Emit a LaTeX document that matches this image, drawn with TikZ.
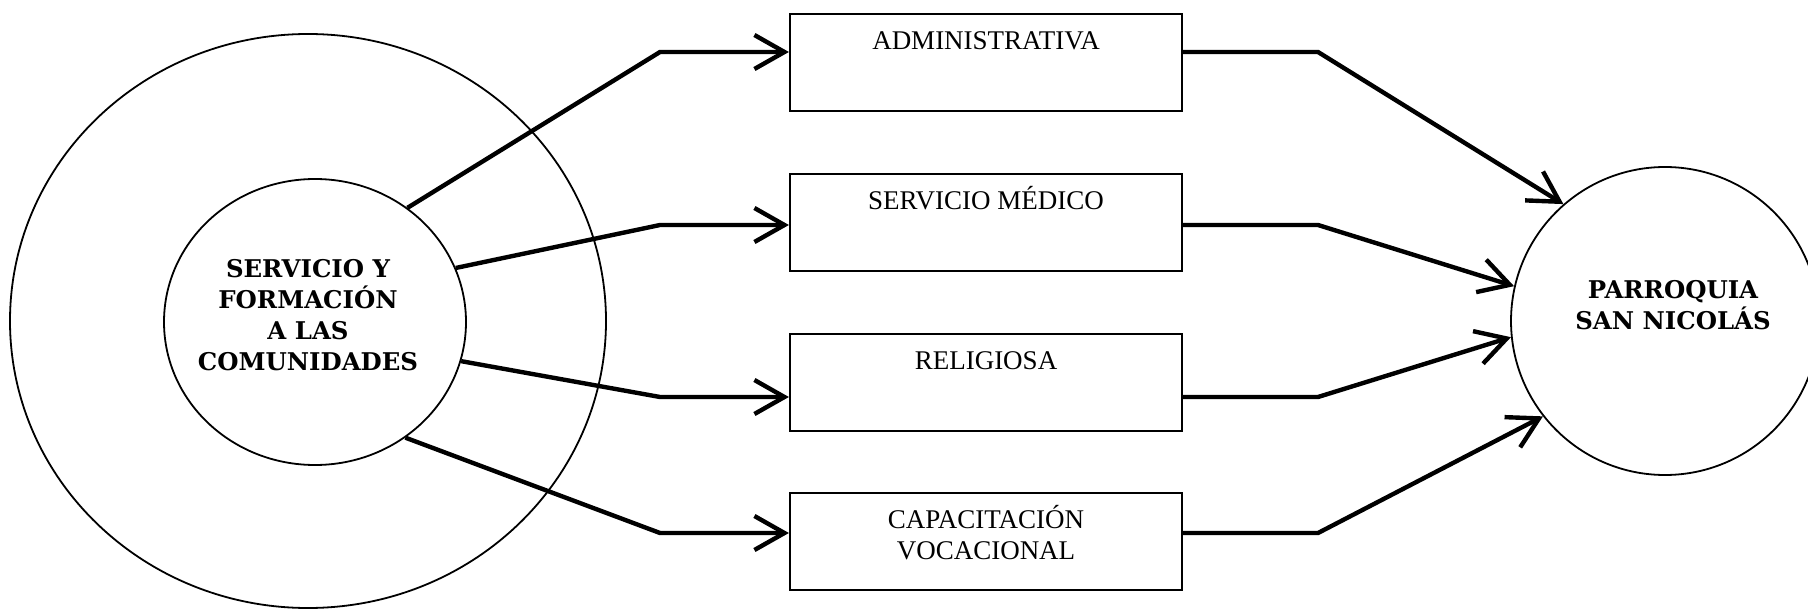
\documentclass[tikz,border=0pt]{standalone}
\usepackage{fontspec}
\setmainfont{Liberation Serif}
\newfontfamily\hubfont{DejaVu Serif}
\usetikzlibrary{arrows.meta,shapes.geometric}
\tikzset{
  unitbox/.style={
    draw,
    line width=1.1pt,
    minimum width=196pt,
    minimum height=48.5pt,
    inner sep=0pt
  },
  unitlabel/.style={
    anchor=north,
    yshift=-8pt,
    inner sep=0pt,
    text height=10pt,
    align=center,
    font=\fontsize{13.5}{15.5}\selectfont
  },
  ring/.style={
    draw,
    ellipse,
    line width=0.9pt,
    inner sep=0pt
  },
  hubtext/.style={
    align=center,
    inner sep=0pt,
    font=\hubfont\bfseries\fontsize{12.2}{15.5}\selectfont
  },
  flow/.style={
    line width=2.2pt,
    -{Straight Barb[length=15pt,width=17pt]}
  }
}
\begin{document}
\begin{tikzpicture}[x=0.5pt,y=-0.5pt]
  \useasboundingbox (0,0) rectangle (1808,609);

  % left: community service rings
  \node[ring, minimum width=298pt, minimum height=287pt] (outer) at (308,321) {};
  \node[ring, minimum width=151pt, minimum height=143pt] (serv) at (315,322) {};
  \node[hubtext] (servtxt) at (308,315) {SERVICIO Y\\FORMACIÓN\\A LAS\\COMUNIDADES};

  % middle: the four areas
  \node[unitbox, label={[unitlabel]north:ADMINISTRATIVA}] (adm) at (986,62.5) {};
  \node[unitbox, label={[unitlabel]north:SERVICIO MÉDICO}] (med) at (986,222.5) {};
  \node[unitbox, label={[unitlabel]north:RELIGIOSA}] (rel) at (986,382.5) {};
  \node[unitbox, label={[unitlabel, text height=25.5pt]north:CAPACITACIÓN\\VOCACIONAL}] (voc) at (986,541.5) {};

  % right: parish
  \node[ring, minimum width=154pt, minimum height=154pt] (parr) at (1665,321) {};
  \node[hubtext] (parrtxt) at (1673,305) {PARROQUIA\\SAN NICOLÁS};

  \coordinate (a1) at (660,52);
  \coordinate (a2) at (660,225);
  \coordinate (a3) at (660,397);
  \coordinate (a4) at (660,533);
  \coordinate (b1) at (1318,52);
  \coordinate (b2) at (1318,225);
  \coordinate (b3) at (1318,397);
  \coordinate (b4) at (1318,533);

  \draw[flow] (serv.51) -- (a1) -- (a1 -| adm.west);
  \draw[flow] (serv.21) -- (a2) -- (a2 -| med.west);
  \draw[flow] (serv.-15) -- (a3) -- (a3 -| rel.west);
  \draw[flow] (serv.-52) -- (a4) -- (a4 -| voc.west);

  \draw[flow] (b1 -| adm.east) -- (b1) -- (parr.131);
  \draw[flow] (b2 -| med.east) -- (b2) -- (parr.167);
  \draw[flow] (b3 -| rel.east) -- (b3) -- (parr.186);
  \draw[flow] (b4 -| voc.east) -- (b4) -- (parr.218);
\end{tikzpicture}
\end{document}
